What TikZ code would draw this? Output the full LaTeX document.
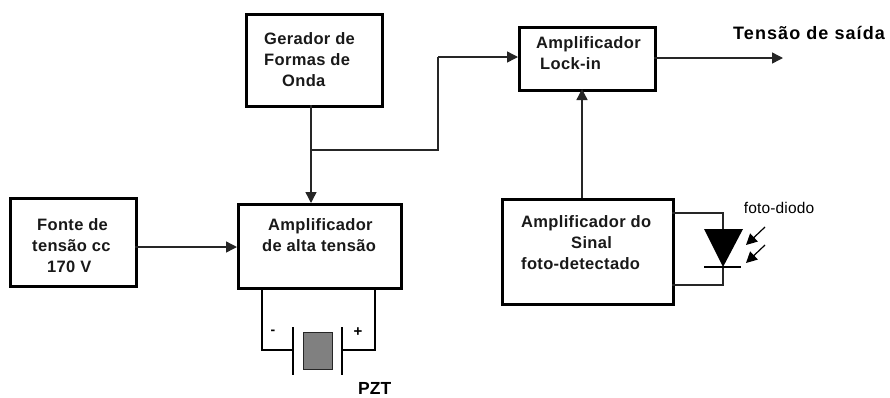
\documentclass[tikz,border=0pt]{standalone}
\usepackage{fontspec}
\setmainfont{Liberation Sans}
\usetikzlibrary{arrows.meta}
\tikzset{
  x=1pt,y=-1pt,
  blockbox/.style={draw=black,line width=2.8pt,rectangle,inner sep=0pt,anchor=north west},
  wire/.style={draw=black!85,line width=1.4pt},
  arrowwire/.style={wire,-{Triangle[length=11pt,width=11pt]}},
  thick wire/.style={draw=black,line width=2pt},
  label/.style={inner sep=0pt,font=\fontsize{16.5}{21}\selectfont\bfseries\addfontfeature{LetterSpace=2},text=black!90,align=left,anchor=north west}
}
\begin{document}
\begin{tikzpicture}
\useasboundingbox (0,0) rectangle (890,397);
\node[blockbox,minimum width=136pt,minimum height=92pt] (gen) at (245,13) {};
\node[blockbox,minimum width=136pt,minimum height=63pt] (lock) at (518,26) {};
\node[blockbox,minimum width=126pt,minimum height=88pt] (fonte) at (9,197) {};
\node[blockbox,minimum width=163pt,minimum height=84pt] (alta) at (237,203) {};
\node[blockbox,minimum width=171pt,minimum height=105pt] (sinal) at (501,198) {};

\node[label] (tgen) at (264,32) {Gerador de\\Formas de\\\hspace*{18pt}Onda};
\node[label] (tlock) at (536,36) {Amplificador\\\hspace*{4pt}Lock-in};
\node[label] (tfonte) at (32,218) {\hspace*{5pt}Fonte de\\tensão cc\\\hspace*{15pt}170 V};
\node[label] (talta) at (262,218) {\hspace*{6pt}Amplificador\\de alta tensão};
\node[label] (tsinal) at (521,215) {Amplificador do\\\hspace*{50pt}Sinal\\foto-detectado};
\node[inner sep=0pt,anchor=west,font=\fontsize{18}{21}\selectfont\bfseries\addfontfeature{LetterSpace=6}] (tsaida) at (733,33) {Tensão de saída};
\node[inner sep=0pt,anchor=west,font=\fontsize{17.5}{21}\selectfont\bfseries] (tpzt) at (358,388) {PZT};
\node[inner sep=0pt,font=\fontsize{15.5}{14}\selectfont\addfontfeature{LetterSpace=1}] (tfoto) at (779,208) {foto-diodo};
\node[inner sep=0pt,font=\fontsize{14}{14}\selectfont\bfseries] (tminus) at (273,332) {-};
\node[inner sep=0pt,font=\fontsize{15}{14}\selectfont\bfseries] (tplus) at (358,332) {+};

% connectors
\coordinate (bend1) at (438,150);
\coordinate (bend2) at (438,57);
\coordinate (out) at (783,58);
\draw[arrowwire] (311,105) -- (311,203);
\draw[wire] (311,150) -- (bend1) -- (bend2);
\draw[arrowwire] (bend2) -- (518,57);
\draw[arrowwire] (654,58) -- (out);
\draw[arrowwire] (582,198) -- (582,89);
\draw[arrowwire] (135,247) -- (237,247);

% PZT
\node[draw=black!85,line width=1.3pt,fill=black!50,rectangle,inner sep=0pt,minimum width=29pt,minimum height=37pt,anchor=north west] (pzt) at (303,332) {};
\coordinate (plateL) at (293,350);
\coordinate (plateR) at (342,350);
\draw[thick wire] (262,287) -- (262,350) -- (plateL);
\draw[thick wire] (375,287) -- (375,350) -- (plateR);
\draw[thick wire] (293,327) -- (293,375);
\draw[thick wire] (342,327) -- (342,375);

% Diode
\coordinate (dtop) at (723,230);
\coordinate (dbot) at (723,267);
\draw[wire] (672,213) -- (723,213) -- (dtop);
\draw[wire] (672,285) -- (723,285) -- (dbot);
\fill[black] (704,229) -- (743,229) -- (723,267) -- cycle;
\draw[line width=2.2pt] (704,267) -- (741,267);
\coordinate (a1s) at (765,227);
\coordinate (a1e) at (746,245);
\coordinate (a2s) at (765,245);
\coordinate (a2e) at (746,263);
\draw[line width=1.2pt,-{Triangle[length=11pt,width=11pt]}] (a1s) -- (a1e);
\draw[line width=1.2pt,-{Triangle[length=11pt,width=11pt]}] (a2s) -- (a2e);
\end{tikzpicture}
\end{document}
